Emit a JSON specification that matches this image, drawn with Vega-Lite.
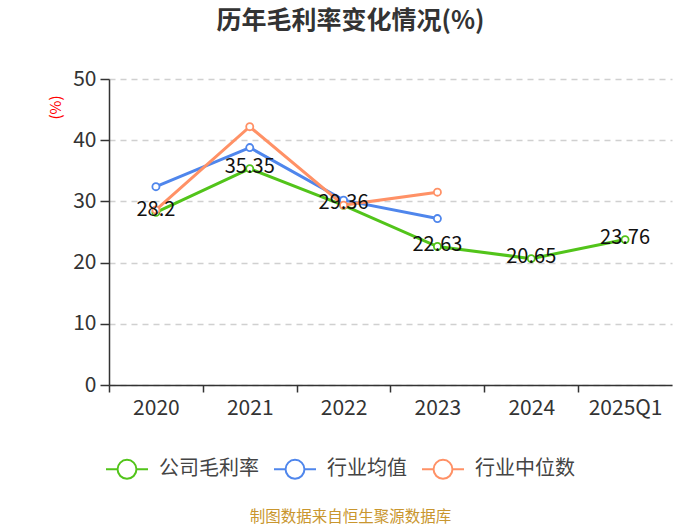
{
  "$schema": "https://vega.github.io/schema/vega-lite/v6.json",
  "width": 563,
  "height": 306,
  "autosize": {"type": "none"},
  "padding": {"left": 109, "top": 79, "right": 28, "bottom": 140},
  "background": "white",
  "title": {
    "text": "历年毛利率变化情况(%)",
    "font": "Noto Sans CJK SC",
    "fontSize": 25,
    "fontWeight": "bold",
    "color": "#333333",
    "anchor": "middle",
    "dx": -40,
    "offset": 34
  },
  "data": {
    "values": [
      {"period": "2020", "series": "公司毛利率", "value": 28.2},
      {"period": "2021", "series": "公司毛利率", "value": 35.35},
      {"period": "2022", "series": "公司毛利率", "value": 29.36},
      {"period": "2023", "series": "公司毛利率", "value": 22.63},
      {"period": "2024", "series": "公司毛利率", "value": 20.65},
      {"period": "2025Q1", "series": "公司毛利率", "value": 23.76},
      {"period": "2020", "series": "行业均值", "value": 32.4},
      {"period": "2021", "series": "行业均值", "value": 38.8},
      {"period": "2022", "series": "行业均值", "value": 30.2},
      {"period": "2023", "series": "行业均值", "value": 27.2},
      {"period": "2020", "series": "行业中位数", "value": 28.6},
      {"period": "2021", "series": "行业中位数", "value": 42.2},
      {"period": "2022", "series": "行业中位数", "value": 29.4},
      {"period": "2023", "series": "行业中位数", "value": 31.5}
    ]
  },
  "encoding": {
    "x": {
      "field": "period",
      "type": "ordinal",
      "sort": ["2020", "2021", "2022", "2023", "2024", "2025Q1"],
      "scale": {"type": "band", "paddingInner": 0, "paddingOuter": 0},
      "axis": {
        "title": "制图数据来自恒生聚源数据库",
        "titleFont": "Noto Sans CJK SC",
        "titleFontSize": 15.5,
        "titleFontWeight": "normal",
        "titleColor": "#c9962e",
        "titleX": 241,
        "titleY": 131,
        "titleAlign": "center",
        "titleBaseline": "middle",
        "tickOffset": -47,
        "labelOffset": 47,
        "labelAngle": 0,
        "labelFont": "Noto Sans CJK SC",
        "labelFontSize": 21,
        "labelColor": "#333333",
        "labelPadding": 5,
        "domainColor": "#333333",
        "domainWidth": 1.5,
        "tickColor": "#333333",
        "tickWidth": 1.5,
        "tickSize": 7,
        "grid": false
      }
    },
    "y": {
      "field": "value",
      "type": "quantitative",
      "scale": {"domain": [0, 50]},
      "axis": {
        "values": [0, 10, 20, 30, 40, 50],
        "title": "(%)",
        "titleFont": "Noto Sans CJK SC",
        "titleFontSize": 15,
        "titleFontWeight": "normal",
        "titleColor": "#ff0000",
        "titleAngle": -90,
        "titleAnchor": "end",
        "titleAlign": "right",
        "titleBaseline": "middle",
        "titleX": -54,
        "titleY": 16,
        "labelFont": "Noto Sans CJK SC",
        "labelFontSize": 21,
        "labelColor": "#333333",
        "labelPadding": 4,
        "domainColor": "#333333",
        "domainWidth": 1.5,
        "tickColor": "#333333",
        "tickWidth": 1.5,
        "tickSize": 9,
        "gridColor": "#d0d0d0",
        "gridDash": [6, 5],
        "gridWidth": 1.3
      }
    },
    "color": {
      "field": "series",
      "type": "nominal",
      "sort": ["公司毛利率", "行业均值", "行业中位数"],
      "scale": {
        "domain": ["公司毛利率", "行业均值", "行业中位数"],
        "range": ["#52c41a", "#4f86ec", "#ff9166"]
      },
      "legend": {
        "title": null,
        "orient": "none",
        "direction": "horizontal",
        "legendX": -4,
        "legendY": 368,
        "symbolType": "M-1,0L-0.45,0M0.45,0L1,0M0.45,0A0.45,0.45 0 1 1 -0.45,0A0.45,0.45 0 1 1 0.45,0",
        "symbolSize": 1764,
        "symbolStrokeWidth": 2,
        "symbolFillColor": "white",
        "labelFont": "Noto Sans CJK SC",
        "labelFontSize": 20,
        "labelColor": "#444444",
        "labelOffset": 10,
        "columnPadding": 11,
        "labelLimit": 200
      }
    }
  },
  "layer": [
    {
      "mark": {
        "type": "line",
        "strokeWidth": 3,
        "point": {"filled": false, "fill": "white", "size": 50, "strokeWidth": 1.8}
      }
    },
    {
      "transform": [{"filter": "datum.series === '公司毛利率'"}],
      "mark": {
        "type": "text",
        "font": "Noto Sans CJK SC",
        "fontSize": 20,
        "baseline": "middle",
        "dy": -2
      },
      "encoding": {
        "text": {"field": "value", "type": "quantitative"},
        "color": {"value": "#111111"}
      }
    }
  ],
  "config": {
    "view": {"stroke": null}
  }
}
